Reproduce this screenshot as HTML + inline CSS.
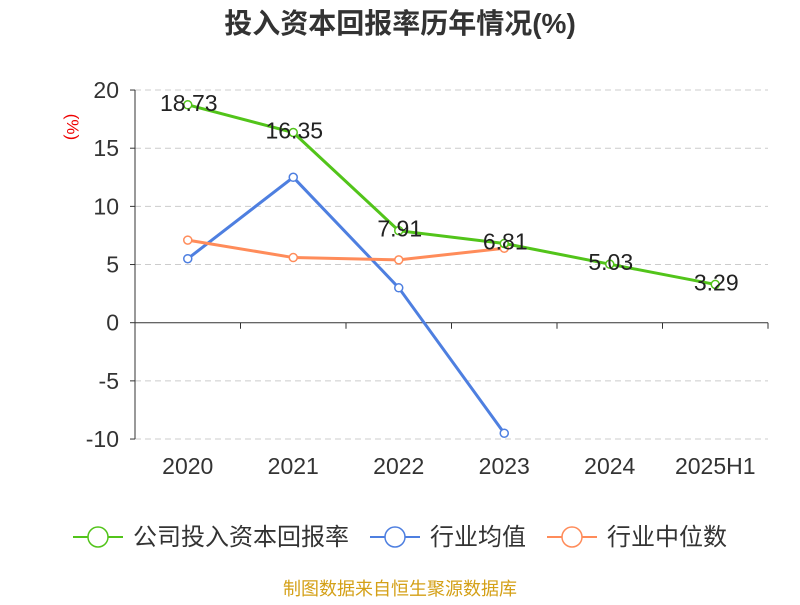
<!DOCTYPE html>
<html><head><meta charset="utf-8"><style>
body{margin:0;background:#fff;font-family:"Liberation Sans","Noto Sans CJK SC",sans-serif;}
svg text{font-family:"Liberation Sans","Noto Sans CJK SC",sans-serif;}
</style></head><body>
<svg id="chart" width="800" height="600" xmlns="http://www.w3.org/2000/svg">
<text x="400" y="33" text-anchor="middle" font-size="28" font-weight="bold" fill="#333">投入资本回报率历年情况(%)</text>
<text x="67" y="127" font-size="17" fill="#e00" transform="rotate(90 67 127)" text-anchor="middle">(%)</text>
<g id="grid"></g><g id="axes"></g><g id="series"></g><g id="labels"></g>
<g>
<g><line x1="73" y1="537" x2="123" y2="537" stroke="#52c41a" stroke-width="2"/><circle cx="98" cy="537" r="10" fill="#fff" stroke="#52c41a" stroke-width="1.5"/><text x="133" y="545" font-size="24" fill="#333">公司投入资本回报率</text></g>
<g><line x1="370" y1="537" x2="420" y2="537" stroke="#4e7fe0" stroke-width="2"/><circle cx="395" cy="537" r="10" fill="#fff" stroke="#4e7fe0" stroke-width="1.5"/><text x="430" y="545" font-size="24" fill="#333">行业均值</text></g>
<g><line x1="547" y1="537" x2="597" y2="537" stroke="#ff8c5a" stroke-width="2"/><circle cx="572" cy="537" r="10" fill="#fff" stroke="#ff8c5a" stroke-width="1.5"/><text x="607" y="545" font-size="24" fill="#333">行业中位数</text></g>
</g>
<text x="400" y="595" text-anchor="middle" font-size="18" fill="#d4a017">制图数据来自恒生聚源数据库</text>
</svg>
<script>
const categories=["2020","2021","2022","2023","2024","2025H1"];
const companyValues=[18.73,16.35,7.91,6.81,5.03,3.29];
const industryAvg=[5.5,12.5,3.0,-9.5];
const industryMedian=[7.1,5.6,5.4,6.4];
const yTicks=[20,15,10,5,0,-5,-10];
const NS="http://www.w3.org/2000/svg";
const x0=135,x1=768,bw=(x1-x0)/categories.length;
function X(i){return x0+bw*(i+0.5);}
function Y(v){return 322.7-v*(349/30);}
function mk(tag,attrs,parent){const e=document.createElementNS(NS,tag);for(const k in attrs)e.setAttribute(k,attrs[k]);document.getElementById(parent).appendChild(e);return e;}
yTicks.forEach(t=>{
 if(t!==0){const l=mk("line",{x1:x0,x2:x1,y1:Y(t),y2:Y(t),stroke:"#ccc","stroke-dasharray":"6,4"},"grid");
 
 }
 const tx=mk("text",{x:x0-16,y:Y(t)+8,"text-anchor":"end","font-size":"23",fill:"#333"},"axes");tx.textContent=t;
 
 
 mk("line",{x1:x0-5,x2:x0,y1:Y(t),y2:Y(t),stroke:"#333"},"axes");
});
const ya=mk("line",{x1:x0,x2:x0,y1:Y(20),y2:Y(-10),stroke:"#333"},"axes");


const xa=mk("line",{x1:x0,x2:x1,y1:Y(0),y2:Y(0),stroke:"#333"},"axes");


categories.forEach((c,i)=>{
 mk("line",{x1:x0+bw*(i+1),x2:x0+bw*(i+1),y1:Y(0),y2:Y(0)+6,stroke:"#333"},"axes");
 const t=mk("text",{x:X(i),y:474,"text-anchor":"middle","font-size":"23",fill:"#333"},"axes");t.textContent=c;
 
 
});
function series(vals,color,name){
 const p=mk("polyline",{points:vals.map((v,i)=>X(i)+","+Y(v)).join(" "),fill:"none",stroke:color,"stroke-width":"3"},"series");
 
 
 vals.forEach((v,i)=>{const c=mk("circle",{cx:X(i),cy:Y(v),r:4,fill:"#fff",stroke:color,"stroke-width":"1.5"},"series");
 
 });
}
series(industryAvg,"#4e7fe0","industry-avg");
series(industryMedian,"#ff8c5a","industry-median");
series(companyValues,"#52c41a","company");
companyValues.forEach((v,i)=>{const t=mk("text",{x:X(i)+1,y:Y(v)+6,"text-anchor":"middle","font-size":"23",fill:"#222"},"labels");t.textContent=v.toFixed(2);
 
 });
</script>
</body></html>
